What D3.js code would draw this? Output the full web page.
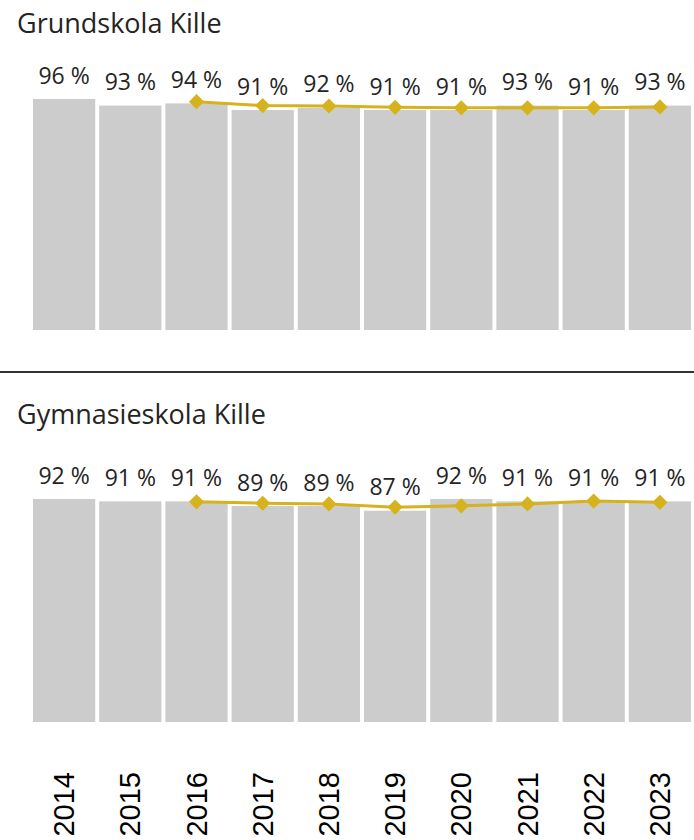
<!DOCTYPE html>
<html>
<head>
<meta charset="utf-8">
<script src="https://cdn.jsdelivr.net/npm/d3@7"></script>
<style>
  body { margin: 0; background: #fff; }
  svg { display: block; }
</style>
</head>
<body>
<svg width="694" height="840"></svg>
<script>
// Data
var years = ["2014", "2015", "2016", "2017", "2018", "2019", "2020", "2021", "2022", "2023"];
var grundskola = [96, 93, 94, 91, 92, 91, 91, 93, 91, 93];
var grundskolaTrend = [null, null, 94.8, 93.0, 92.8, 92.2, 92.0, 92.0, 92.0, 92.4];
var gymnasie = [92, 91, 91, 89, 89, 87, 92, 91, 91, 91];
var gymnasieTrend = [null, null, 90.8, 90.2, 89.9, 88.5, 89.1, 89.9, 91.1, 90.6];
var titles = ["Grundskola Kille", "Gymnasieskola Kille"];

var svg = d3.select("svg"),
  width = +svg.attr("width"),
  height = +svg.attr("height");

var barColor = "#cccccc",
  lineColor = "#d6b21c",
  textColor = "#252423";

// shared x scale
var x = d3.scaleBand()
  .domain(years)
  .range([31, 693])
  .paddingInner(0.06)
  .paddingOuter(0.03);

function panel(title, titleY, values, trend, y) {
  var g = svg.append("g");

  g.append("text")
    .attr("x", 17)
    .attr("y", titleY)
    .style("font-family", "'Open Sans', sans-serif")
    .style("font-size", "27px")
    .attr("fill", textColor)
    .text(title);

  g.selectAll("rect")
    .data(values)
    .enter()
    .append("rect")
    .attr("x", function (d, i) { return x(years[i]); })
    .attr("width", x.bandwidth())
    .attr("y", function (d) { return y(d); })
    .attr("height", function (d) { return y.range()[0] - y(d); })
    .attr("fill", barColor);

  g.selectAll(".lbl")
    .data(values)
    .enter()
    .append("text")
    .attr("class", "lbl")
    .attr("x", function (d, i) { return x(years[i]) + x.bandwidth() / 2; })
    .attr("y", function (d) { return y(d) - 15.5; })
    .attr("text-anchor", "middle")
    .style("font-family", "'Open Sans', sans-serif")
    .style("font-size", "23px")
    .attr("fill", textColor)
    .text(function (d) { return d + " %"; });

  var pts = trend
    .map(function (d, i) { return { year: years[i], v: d }; })
    .filter(function (d) { return d.v != null; });

  var line = d3.line()
    .x(function (d) { return x(d.year) + x.bandwidth() / 2; })
    .y(function (d) { return y(d.v); });

  g.append("path")
    .datum(pts)
    .attr("d", line)
    .attr("fill", "none")
    .attr("stroke", lineColor)
    .attr("stroke-width", 3);

  g.selectAll(".mk")
    .data(pts)
    .enter()
    .append("path")
    .attr("class", "mk")
    .attr("d", d3.symbol(d3.symbolSquare, 115))
    .attr("transform", function (d) {
      return "translate(" + (x(d.year) + x.bandwidth() / 2) + "," + y(d.v) + ") rotate(45)";
    })
    .attr("fill", lineColor);
}

// Grundskola
var y1 = d3.scaleLinear().domain([-9, 100]).range([330, 90.2]);
panel(titles[0], 33, grundskola, grundskolaTrend, y1);

// separator
svg.append("line")
  .attr("x1", 0)
  .attr("x2", width)
  .attr("y1", 372)
  .attr("y2", 372)
  .attr("stroke", "#333333")
  .attr("stroke-width", 2);

// Gymnasieskola
var y2 = d3.scaleLinear().domain([-3.3, 100]).range([722, 480.3]);
panel(titles[1], 424, gymnasie, gymnasieTrend, y2);

// year labels
svg.append("g")
  .selectAll("text")
  .data(years)
  .enter()
  .append("text")
  .attr("transform", function (d) {
    return "translate(" + (x(d) + x.bandwidth() / 2 + 10) + ",772) rotate(-90)";
  })
  .attr("text-anchor", "end")
  .style("font-family", "'Liberation Sans', Arial, sans-serif")
  .style("font-size", "29px")
  .attr("fill", "#000")
  .text(function (d) { return d; });
</script>
</body>
</html>
